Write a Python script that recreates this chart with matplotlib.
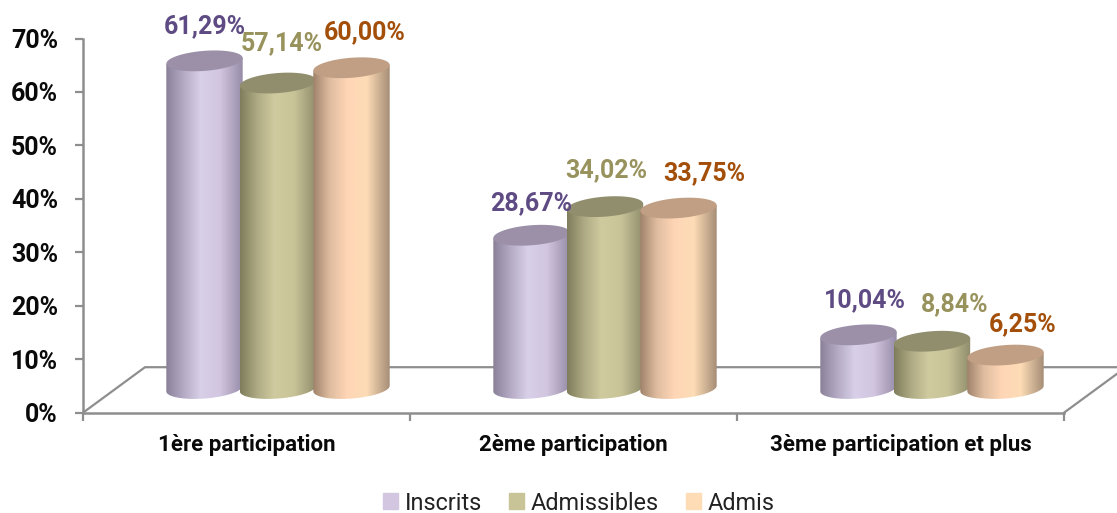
import numpy as np
import matplotlib
matplotlib.use('Agg')
from matplotlib import pyplot as plt
from matplotlib.colors import LinearSegmentedColormap
from matplotlib.patches import Polygon, Patch
from matplotlib.path import Path

categories = ['1ère participation', '2ème participation', '3ème participation et plus']
series = ['Inscrits', 'Admissibles', 'Admis']
inscrits = [61.29, 28.67, 10.04]
admissibles = [57.14, 34.02, 8.84]
admis = [60.00, 33.75, 6.25]
yticks = [0, 10, 20, 30, 40, 50, 60, 70]

W, H = 1117, 513
plt.rcParams['font.family'] = ['Roboto', 'DejaVu Sans']

# axes box in pixels, 3d look is added by hand on top of it
LEFT, RIGHT, TOP, BOTTOM = 83, 1064, 38.5, 412.7
SX = (RIGHT - LEFT) / 3
SY = (BOTTOM - TOP) / 70

fig = plt.figure(figsize=(W / 100, H / 100), dpi=100)
ax = fig.add_axes([LEFT / W, 1 - BOTTOM / H, (RIGHT - LEFT) / W, (BOTTOM - TOP) / H])
ax.set_xlim(0, 3)
ax.set_ylim(0, 70)
ax.set_autoscale_on(False)

GREY = '#8e8e8e'
for s in ['top', 'right']:
    ax.spines[s].set_visible(False)
for s in ['left', 'bottom']:
    ax.spines[s].set_color(GREY)
    ax.spines[s].set_linewidth(1.8)

ax.set_yticks(yticks)
ax.set_yticklabels([f'{t}%' for t in yticks], fontsize=18, fontweight='bold', color='#0a0a0a')
ax.tick_params(axis='y', color=GREY, width=1.6, length=6, pad=12)
ax.set_xticks([0, 1, 2, 3])
ax.set_xticklabels([])
ax.tick_params(axis='x', which='major', color=GREY, width=1.6, length=6)
ax.set_xticks([0.5, 1.5, 2.5], minor=True)
ax.set_xticklabels(categories, minor=True, fontsize=16, fontweight='bold', color='#0a0a0a')
ax.tick_params(axis='x', which='minor', length=0, pad=15)

# floor
dx, dy = 62 / SX, 45.5 / SY
ax.plot([0, dx, 3 + dx, 3], [0, dy, dy, 0], color=GREY, lw=1.6, clip_on=False, zorder=1)

colors = [
    [(0, '#8a8199'), (0.22, '#b3a9c4'), (0.45, '#d8cfe8'), (0.7, '#d2c6e0'), (1, '#978ca8')],
    [(0, '#7f7d5c'), (0.22, '#aeaa84'), (0.45, '#d0cb9f'), (0.7, '#c9c498'), (1, '#8f8c6c')],
    [(0, '#a0836c'), (0.22, '#e0bda0'), (0.45, '#ffd6b6'), (0.7, '#fddcb6'), (1, '#a58d76')],
]
top_colors = ['#9b90a8', '#918e6e', '#c09f84']
text_colors = ['#5f4b83', '#98925c', '#a34f0a']

# label offsets from the top of each cylinder, pixels
label_dx = [[0, 4, 13], [0, 1, 26], [6, 23, 17]]
label_dy = [[35, 40, 36], [32, 36, 35], [35, 37, 31]]

A, B, TILT = 38.3, 10, np.radians(4.5)
BASE = (BOTTOM - 388.5) / SY
STEP = 73.5 / SX
GROUP = 0.5 + 31.5 / SX


def ellipse(cx, cy, t):
    ex = A * np.cos(t) * np.cos(TILT) - B * np.sin(t) * np.sin(TILT)
    ey = A * np.cos(t) * np.sin(TILT) + B * np.sin(t) * np.cos(TILT)
    return np.column_stack([cx + ex / SX, cy + ey / SY])


def cylinder(cx, v, cmap, top_color, z):
    y1 = BASE + v
    low = ellipse(cx, BASE, np.linspace(np.pi, 2 * np.pi, 60))
    high = ellipse(cx, y1, np.array([0, np.pi]))
    body = Path(np.vstack([low, high, low[:1]]))
    im = ax.imshow(np.linspace(0, 1, 200).reshape(1, -1), cmap=cmap, vmin=0, vmax=1, aspect='auto',
                   extent=(cx - A / SX, cx + A / SX, BASE - 12 / SY, y1 + 8 / SY),
                   interpolation='bilinear', zorder=z)
    im.set_clip_path(body, transform=ax.transData)
    ax.add_patch(Polygon(ellipse(cx, y1, np.linspace(0, 2 * np.pi, 80)), closed=True,
                         fc=top_color, ec='none', zorder=z + 0.1, clip_on=False))


handles = []
for j, (name, vals) in enumerate(zip(series, [inscrits, admissibles, admis])):
    cmap = LinearSegmentedColormap.from_list(name, colors[j])
    handles.append(Patch(color=colors[j][3][1], label=name))
    for i, v in enumerate(vals):
        cx = i + GROUP + (j - 1) * STEP
        cylinder(cx, v, cmap, top_colors[j], 3 + j + i * 3)
        ax.annotate(f'{v:.2f}'.replace('.', ',') + '%', (cx, BASE + v),
                    xytext=(label_dx[i][j], label_dy[i][j]), textcoords='offset pixels',
                    ha='center', va='center', fontsize=18, fontweight='bold',
                    color=text_colors[j], zorder=30)

ax.set_xlim(0, 3)
ax.set_ylim(0, 70)

fig.legend(handles=handles, loc='center', bbox_to_anchor=(579 / W, 1 - 503 / H), ncol=3, frameon=False,
           fontsize=16.8, handlelength=0.66, handleheight=0.66, handletextpad=0.28, columnspacing=1.15,
           labelcolor='#222222')

fig.savefig('out.png', dpi=100)
